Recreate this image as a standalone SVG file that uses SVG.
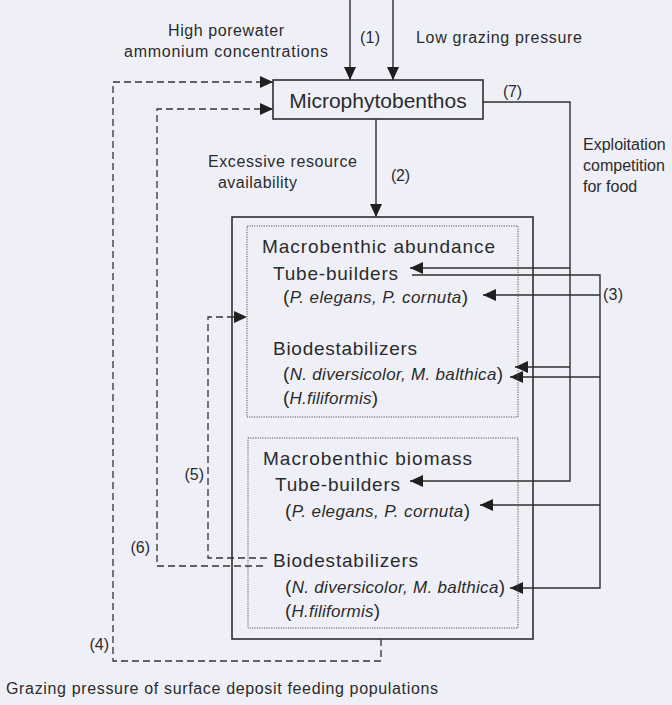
<svg xmlns="http://www.w3.org/2000/svg" width="672" height="705" viewBox="0 0 672 705">
<style>
text{font-family:"Liberation Sans",Arial,sans-serif;fill:#2b2b2b;}
.lbl{font-size:16px;}
.num{font-size:16px;}
.title{font-size:19px;}
.big{font-size:21px;}
.it{font-style:italic;font-size:17px;}
.par{font-size:19px;}
.ln{fill:none;stroke:#2e2e2e;stroke-width:1.4;}
.dash{fill:none;stroke:#333;stroke-width:1.3;stroke-dasharray:7,4;}
.box{fill:none;stroke:#2e2e2e;stroke-width:1.6;}
.dot{fill:none;stroke:#555;stroke-width:1;stroke-dasharray:1.2,1.2;}
</style>
<defs>
<marker id="ah" markerUnits="userSpaceOnUse" markerWidth="14" markerHeight="12" refX="13" refY="6" orient="auto">
<path d="M0,0 L13,6 L0,12 z" fill="#1f1f1f"/>
</marker>
</defs>
<rect x="0" y="0" width="672" height="705" fill="#eff0f7"/>

<g id="connectors">
<!-- (1) -->
<line class="ln" x1="350" y1="0" x2="350" y2="80" marker-end="url(#ah)"/>
<line class="ln" x1="393" y1="0" x2="393" y2="80" marker-end="url(#ah)"/>
<!-- (2) -->
<line class="ln" x1="376" y1="119" x2="376" y2="217" marker-end="url(#ah)"/>
<!-- (7) -->
<path class="ln" d="M483,102 H570 V481 H410" marker-end="url(#ah)"/>
<path class="ln" d="M570,268 H410" marker-end="url(#ah)"/>
<path class="ln" d="M570,367 H515" marker-end="url(#ah)"/>
<!-- (3) -->
<path class="ln" d="M412,275 H600 V588 H510" marker-end="url(#ah)"/>
<path class="ln" d="M600,295 H483" marker-end="url(#ah)"/>
<path class="ln" d="M600,377 H510" marker-end="url(#ah)"/>
<path class="ln" d="M600,505 H480" marker-end="url(#ah)"/>
<!-- (4) -->
<path class="dash" d="M381,639 V661 H113 V82 H273" marker-end="url(#ah)"/>
<!-- (6) -->
<path class="dash" d="M263,566 H157 V109 H273" marker-end="url(#ah)"/>
<!-- (5) -->
<path class="dash" d="M267,558 H208 V317 H247" marker-end="url(#ah)"/>
</g>

<g id="labels">
<text class="lbl" x="226" y="36" text-anchor="middle" textLength="116">High porewater</text>
<text class="lbl" x="226" y="57" text-anchor="middle" textLength="204">ammonium concentrations</text>
<text class="num" x="360" y="43" textLength="20">(1)</text>
<text class="lbl" x="416" y="43" textLength="166">Low grazing pressure</text>
<text class="num" x="503" y="97" textLength="19">(7)</text>
<text class="lbl" x="583" y="150">Exploitation</text>
<text class="lbl" x="583" y="171">competition</text>
<text class="lbl" x="583" y="192">for food</text>
<text class="lbl" x="208" y="167" textLength="149">Excessive resource</text>
<text class="lbl" x="218" y="188" textLength="79">availability</text>
<text class="num" x="391" y="181" textLength="19">(2)</text>
<text class="num" x="603" y="300" textLength="20">(3)</text>
<text class="num" x="204" y="480" text-anchor="end">(5)</text>
<text class="num" x="150" y="553" text-anchor="end">(6)</text>
<text class="num" x="109" y="650" text-anchor="end">(4)</text>
<text class="lbl" x="6" y="694" textLength="432">Grazing pressure of surface deposit feeding populations</text>
</g>

<g id="microphytobenthos">
<rect class="box" x="273" y="80" width="210" height="39"/>
<text class="big" x="378" y="108" text-anchor="middle">Microphytobenthos</text>
</g>

<g id="macrobenthos">
<rect class="box" x="232" y="217" width="301" height="422"/>
</g>

<g id="abundance">
<rect class="dot" x="247" y="226" width="271" height="191"/>
<text class="title" x="262" y="253" textLength="233">Macrobenthic abundance</text>
<text class="title" x="273" y="280" textLength="125">Tube-builders</text>
<text x="283" y="303" textLength="185"><tspan class="par">(</tspan><tspan class="it">P. elegans, P. cornuta</tspan><tspan class="par">)</tspan></text>
<text class="title" x="273" y="355" textLength="144">Biodestabilizers</text>
<text x="283" y="380" textLength="220"><tspan class="par">(</tspan><tspan class="it">N. diversicolor, M. balthica</tspan><tspan class="par">)</tspan></text>
<text x="283" y="404" textLength="95"><tspan class="par">(</tspan><tspan class="it">H.filiformis</tspan><tspan class="par">)</tspan></text>
</g>

<g id="biomass">
<rect class="dot" x="248" y="438" width="270" height="190"/>
<text class="title" x="263" y="465" textLength="209">Macrobenthic biomass</text>
<text class="title" x="275" y="491" textLength="125">Tube-builders</text>
<text x="285" y="517" textLength="185"><tspan class="par">(</tspan><tspan class="it">P. elegans, P. cornuta</tspan><tspan class="par">)</tspan></text>
<text class="title" x="273" y="567" textLength="145">Biodestabilizers</text>
<text x="285" y="593" textLength="220"><tspan class="par">(</tspan><tspan class="it">N. diversicolor, M. balthica</tspan><tspan class="par">)</tspan></text>
<text x="285" y="617" textLength="95"><tspan class="par">(</tspan><tspan class="it">H.filiformis</tspan><tspan class="par">)</tspan></text>
</g>
</svg>
